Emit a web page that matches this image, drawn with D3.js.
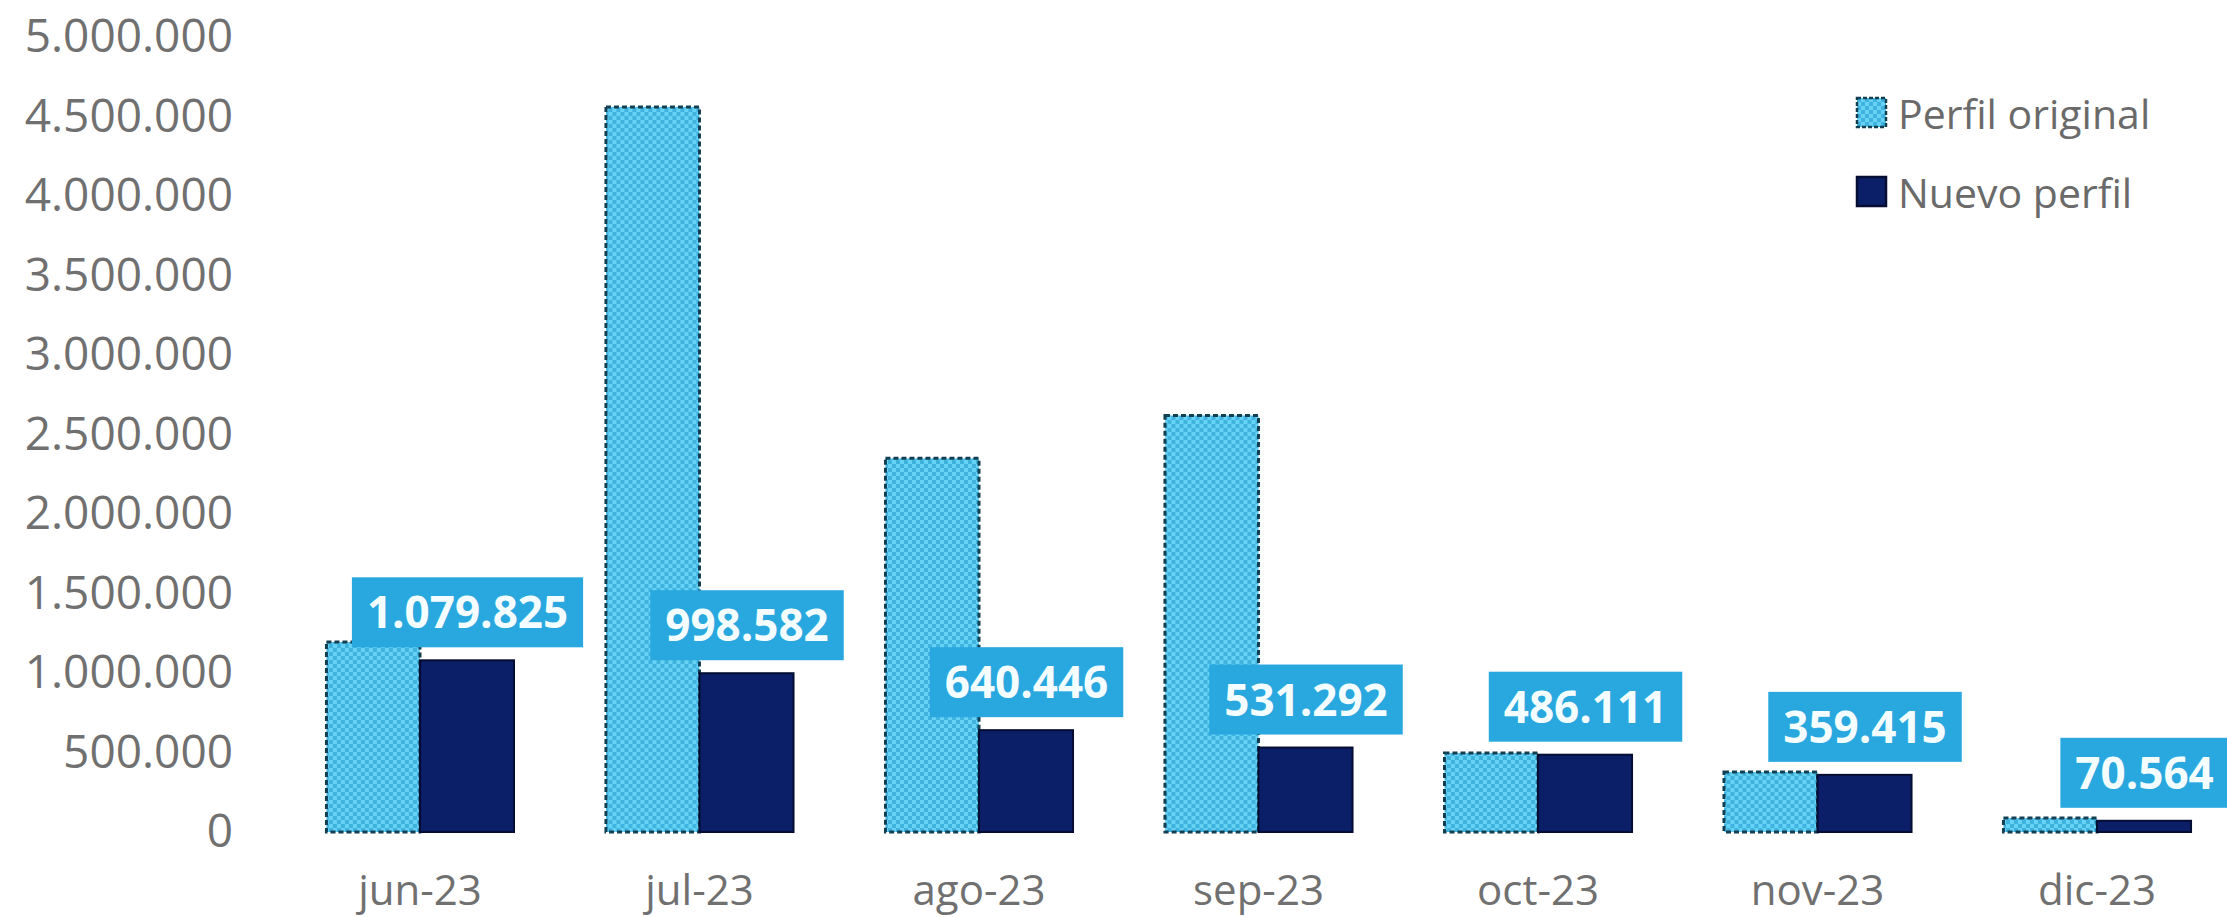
<!DOCTYPE html>
<html>
<head>
<meta charset="utf-8">
<title>Perfil original vs Nuevo perfil</title>
<script src="https://d3js.org/d3.v7.min.js"></script>
<style>
    body { margin: 0; background: #fff; }
    svg { display: block; }
    .tick text { font-family: "Open Sans", sans-serif; fill: #707070; }
</style>
</head>
<body>
<svg id="chart" width="2227" height="917"></svg>
<script>
    // data
    const months = ["jun-23", "jul-23", "ago-23", "sep-23", "oct-23", "nov-23", "dic-23"];
    const perfilOriginal = [1195000, 4560000, 2350000, 2620000, 497000, 377000, 88000];
    const nuevoPerfil = [1079825, 998582, 640446, 531292, 486111, 359415, 70564];
    const seriesNames = ["Perfil original", "Nuevo perfil"];
    const yTicks = [0, 500000, 1000000, 1500000, 2000000, 2500000, 3000000, 3500000, 4000000, 4500000, 5000000];

    const rows = months.map((m, i) => ({month: m, orig: perfilOriginal[i], nuevo: nuevoPerfil[i]}));

    const es = d3.formatLocale({decimal: ",", thousands: ".", grouping: [3], currency: ["$", ""]});
    const fmt = es.format(",d");

    const svg = d3.select("#chart");

    // checkered fill for "Perfil original"
    const defs = svg.append("defs");
    const pat = defs.append("pattern")
        .attr("id", "checker")
        .attr("patternUnits", "userSpaceOnUse")
        .attr("width", 8).attr("height", 8);
    pat.append("rect").attr("width", 8).attr("height", 8).attr("fill", "#66d2f6");
    pat.append("rect").attr("width", 4).attr("height", 4).attr("fill", "#3fb2de");
    pat.append("rect").attr("x", 4).attr("y", 4).attr("width", 4).attr("height", 4).attr("fill", "#3fb2de");

    const y = d3.scaleLinear()
        .domain([0, 5000000])
        .range([832, 37]);

    const x0 = d3.scaleBand()
        .domain(months)
        .range([297, 2220])
        .paddingInner(0.32)
        .paddingOuter(0.1);

    const x1 = d3.scaleBand()
        .domain(["orig", "nuevo"])
        .range([0, x0.bandwidth()]);

    // y axis
    svg.append("g")
        .attr("transform", "translate(233,0)")
        .call(d3.axisLeft(y).tickValues(yTicks).tickFormat(fmt).tickSize(0).tickPadding(0))
        .call(g => g.select(".domain").remove())
        .selectAll("text")
        .style("font-size", "46px");

    // x axis
    svg.append("g")
        .attr("transform", `translate(0,${y(0)})`)
        .call(d3.axisBottom(x0).tickSize(0).tickPadding(43))
        .call(g => g.select(".domain").remove())
        .selectAll("text")
        .style("font-size", "42px");

    const groups = svg.append("g")
        .selectAll("g")
        .data(rows)
        .join("g")
        .attr("transform", d => `translate(${x0(d.month)},0)`);

    groups.append("rect")
        .attr("x", x1("orig") + 1.5)
        .attr("y", d => y(d.orig))
        .attr("width", x1.bandwidth() - 1.5)
        .attr("height", d => y(0) - y(d.orig))
        .attr("fill", "url(#checker)")
        .attr("stroke", "#123f52")
        .attr("stroke-width", 3)
        .attr("stroke-dasharray", "5,3");

    groups.append("rect")
        .attr("x", x1("nuevo"))
        .attr("y", d => y(d.nuevo))
        .attr("width", x1.bandwidth() - 1)
        .attr("height", d => y(0) - y(d.nuevo))
        .attr("fill", "#0b1f68")
        .attr("stroke", "#050d33")
        .attr("stroke-width", 2);

    // value badges above the "Nuevo perfil" bars
    const badge = groups.append("g")
        .attr("transform", d => `translate(${x1("nuevo") + x1.bandwidth() / 2},${y(d.nuevo) - 13})`);

    const badgeText = badge.append("text")
        .attr("text-anchor", "middle")
        .attr("y", -19)
        .style("font-family", "'Open Sans', sans-serif")
        .style("font-weight", "bold")
        .style("font-size", "44px")
        .attr("fill", "#f4fdff")
        .text(d => fmt(d.nuevo));

    badgeText.each(function () {
        const w = this.getComputedTextLength();
        d3.select(this.parentNode).insert("rect", "text")
            .attr("x", -w / 2 - 15)
            .attr("y", -70)
            .attr("width", w + 30)
            .attr("height", 70)
            .attr("fill", "#29a8e0");
    });

    // legend
    const legend = svg.append("g")
        .selectAll("g")
        .data(seriesNames)
        .join("g")
        .attr("transform", (d, i) => `translate(1857,${98 + i * 79})`);

    legend.append("rect")
        .attr("width", 29)
        .attr("height", 29)
        .attr("fill", (d, i) => i === 0 ? "url(#checker)" : "#0b1f68")
        .attr("stroke", (d, i) => i === 0 ? "#123f52" : "#050d33")
        .attr("stroke-width", 2.5)
        .attr("stroke-dasharray", (d, i) => i === 0 ? "4,2" : null);

    legend.append("text")
        .attr("x", 41)
        .attr("y", 31)
        .style("font-family", "'Open Sans', sans-serif")
        .style("font-size", "41px")
        .attr("fill", "#6a6a6a")
        .text(d => d);
</script>
</body>
</html>
